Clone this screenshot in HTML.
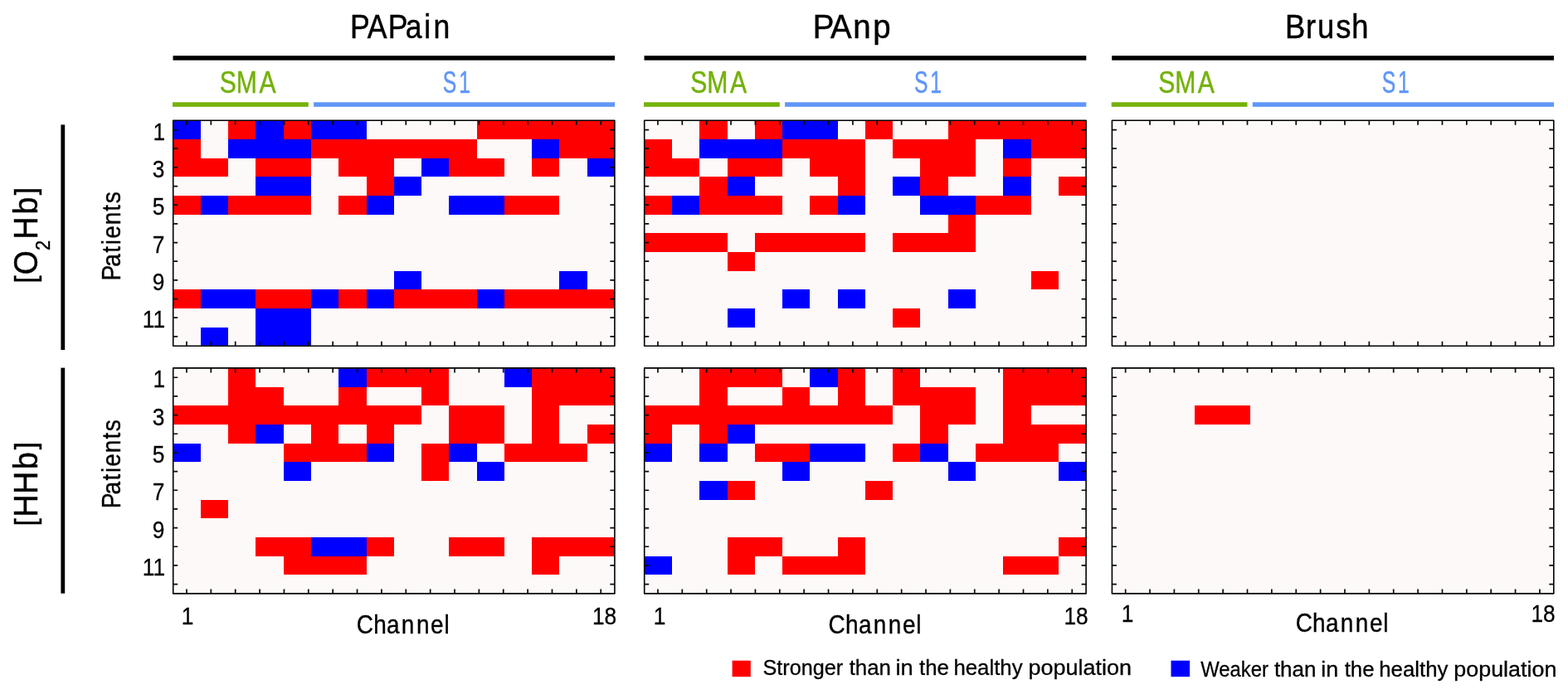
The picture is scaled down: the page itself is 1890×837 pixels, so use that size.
<!DOCTYPE html>
<html lang="en"><head><meta charset="utf-8"><title>Figure</title>
<style>
html,body{margin:0;padding:0;background:#fff;}
body{width:1890px;height:837px;overflow:hidden;font-family:"Liberation Sans", sans-serif;}
svg{display:block;}
text{white-space:pre;}
</style></head><body>
<svg width="1890" height="837" viewBox="0 0 1890 837" font-family='"Liberation Sans", sans-serif'>
<rect width="1890" height="837" fill="#fff"/>
<rect x="208.5" y="67.2" width="532.6" height="5.5" fill="#000"/>
<rect x="208" y="123.3" width="163.8" height="5.5" fill="#75b10a"/>
<rect x="378.1" y="123.3" width="363" height="5.5" fill="#5f96f8"/>
<rect x="776.5" y="67.2" width="532.8" height="5.5" fill="#000"/>
<rect x="776" y="123.3" width="163.8" height="5.5" fill="#75b10a"/>
<rect x="946.1" y="123.3" width="363.2" height="5.5" fill="#5f96f8"/>
<rect x="1340.2" y="67.2" width="532.8" height="5.5" fill="#000"/>
<rect x="1339.7" y="123.3" width="163.8" height="5.5" fill="#75b10a"/>
<rect x="1509.8" y="123.3" width="363.2" height="5.5" fill="#5f96f8"/>
<rect x="73.4" y="150.4" width="4.8" height="271.6" fill="#000"/>
<rect x="73.4" y="443.6" width="4.8" height="272.1" fill="#000"/>
<g>
<rect x="208.7" y="145.2" width="532.2" height="272" fill="#fdf9f9"/>
<path d="M275 145H308V168H275ZM342 145H375V168H342ZM575 145H741V168H575ZM209 168H242V191H209ZM375 168H575V191H375ZM674 168H741V191H674ZM209 191H275V213H209ZM308 191H375V213H308ZM408 191H475V213H408ZM541 191H608V213H541ZM641 191H674V213H641ZM442 213H475V236H442ZM209 236H242V259H209ZM275 236H375V259H275ZM408 236H442V259H408ZM608 236H674V259H608ZM209 349H242V372H209ZM308 349H375V372H308ZM408 349H442V372H408ZM475 349H575V372H475ZM608 349H741V372H608Z" fill="#ff0000"/>
<path d="M209 145H242V168H209ZM308 145H342V168H308ZM375 145H442V168H375ZM275 168H375V191H275ZM641 168H674V191H641ZM508 191H541V213H508ZM708 191H741V213H708ZM308 213H375V236H308ZM475 213H508V236H475ZM242 236H275V259H242ZM442 236H475V259H442ZM541 236H608V259H541ZM475 327H508V349H475ZM674 327H708V349H674ZM242 349H308V372H242ZM375 349H408V372H375ZM442 349H475V372H442ZM575 349H608V372H575ZM308 372H375V395H308ZM242 395H275V417H242ZM308 395H375V417H308Z" fill="#0000ff"/>
<path d="M224.95 145.2v5.5M224.95 417.2v-5.5M254.32 145.2v5.5M254.32 417.2v-5.5M283.69 145.2v5.5M283.69 417.2v-5.5M313.06 145.2v5.5M313.06 417.2v-5.5M342.43 145.2v5.5M342.43 417.2v-5.5M371.8 145.2v5.5M371.8 417.2v-5.5M401.17 145.2v5.5M401.17 417.2v-5.5M430.54 145.2v5.5M430.54 417.2v-5.5M459.91 145.2v5.5M459.91 417.2v-5.5M489.28 145.2v5.5M489.28 417.2v-5.5M518.65 145.2v5.5M518.65 417.2v-5.5M548.02 145.2v5.5M548.02 417.2v-5.5M577.39 145.2v5.5M577.39 417.2v-5.5M606.76 145.2v5.5M606.76 417.2v-5.5M636.13 145.2v5.5M636.13 417.2v-5.5M665.5 145.2v5.5M665.5 417.2v-5.5M694.87 145.2v5.5M694.87 417.2v-5.5M724.24 145.2v5.5M724.24 417.2v-5.5M208.7 156.53h5.5M740.9 156.53h-5.5M208.7 179.2h5.5M740.9 179.2h-5.5M208.7 201.87h5.5M740.9 201.87h-5.5M208.7 224.53h5.5M740.9 224.53h-5.5M208.7 247.2h5.5M740.9 247.2h-5.5M208.7 269.87h5.5M740.9 269.87h-5.5M208.7 292.53h5.5M740.9 292.53h-5.5M208.7 315.2h5.5M740.9 315.2h-5.5M208.7 337.87h5.5M740.9 337.87h-5.5M208.7 360.53h5.5M740.9 360.53h-5.5M208.7 383.2h5.5M740.9 383.2h-5.5M208.7 405.87h5.5M740.9 405.87h-5.5" stroke="#0a0a0a" stroke-width="1.7" fill="none"/>
<rect x="208.7" y="145.2" width="532.2" height="272" fill="none" stroke="#000" stroke-width="1.6" stroke-linejoin="round"/>
</g>
<g>
<rect x="776.7" y="145.2" width="532.4" height="272" fill="#fdf9f9"/>
<path d="M843 145H877V168H843ZM910 145H943V168H910ZM1043 145H1076V168H1043ZM1143 145H1309V168H1143ZM777 168H810V191H777ZM943 168H1043V191H943ZM1076 168H1176V191H1076ZM1243 168H1309V191H1243ZM777 191H843V213H777ZM877 191H943V213H877ZM976 191H1043V213H976ZM1109 191H1176V213H1109ZM1209 191H1243V213H1209ZM843 213H877V236H843ZM1010 213H1043V236H1010ZM1109 213H1143V236H1109ZM1276 213H1309V236H1276ZM777 236H810V259H777ZM843 236H943V259H843ZM976 236H1010V259H976ZM1176 236H1243V259H1176ZM1143 259H1176V281H1143ZM777 281H877V304H777ZM910 281H1043V304H910ZM1076 281H1176V304H1076ZM877 304H910V327H877ZM1243 327H1276V349H1243ZM1076 372H1109V395H1076Z" fill="#ff0000"/>
<path d="M943 145H1010V168H943ZM843 168H943V191H843ZM1209 168H1243V191H1209ZM877 213H910V236H877ZM1076 213H1109V236H1076ZM1209 213H1243V236H1209ZM810 236H843V259H810ZM1010 236H1043V259H1010ZM1109 236H1176V259H1109ZM943 349H976V372H943ZM1010 349H1043V372H1010ZM1143 349H1176V372H1143ZM877 372H910V395H877Z" fill="#0000ff"/>
<path d="M792.95 145.2v5.5M792.95 417.2v-5.5M822.32 145.2v5.5M822.32 417.2v-5.5M851.69 145.2v5.5M851.69 417.2v-5.5M881.06 145.2v5.5M881.06 417.2v-5.5M910.43 145.2v5.5M910.43 417.2v-5.5M939.8 145.2v5.5M939.8 417.2v-5.5M969.17 145.2v5.5M969.17 417.2v-5.5M998.54 145.2v5.5M998.54 417.2v-5.5M1027.91 145.2v5.5M1027.91 417.2v-5.5M1057.28 145.2v5.5M1057.28 417.2v-5.5M1086.65 145.2v5.5M1086.65 417.2v-5.5M1116.02 145.2v5.5M1116.02 417.2v-5.5M1145.39 145.2v5.5M1145.39 417.2v-5.5M1174.76 145.2v5.5M1174.76 417.2v-5.5M1204.13 145.2v5.5M1204.13 417.2v-5.5M1233.5 145.2v5.5M1233.5 417.2v-5.5M1262.87 145.2v5.5M1262.87 417.2v-5.5M1292.24 145.2v5.5M1292.24 417.2v-5.5M776.7 156.53h5.5M1309.1 156.53h-5.5M776.7 179.2h5.5M1309.1 179.2h-5.5M776.7 201.87h5.5M1309.1 201.87h-5.5M776.7 224.53h5.5M1309.1 224.53h-5.5M776.7 247.2h5.5M1309.1 247.2h-5.5M776.7 269.87h5.5M1309.1 269.87h-5.5M776.7 292.53h5.5M1309.1 292.53h-5.5M776.7 315.2h5.5M1309.1 315.2h-5.5M776.7 337.87h5.5M1309.1 337.87h-5.5M776.7 360.53h5.5M1309.1 360.53h-5.5M776.7 383.2h5.5M1309.1 383.2h-5.5M776.7 405.87h5.5M1309.1 405.87h-5.5" stroke="#0a0a0a" stroke-width="1.7" fill="none"/>
<rect x="776.7" y="145.2" width="532.4" height="272" fill="none" stroke="#000" stroke-width="1.6" stroke-linejoin="round"/>
</g>
<g>
<rect x="1340.4" y="145.2" width="532.4" height="272" fill="#fdf9f9"/>
<path d="M1356.65 145.2v5.5M1356.65 417.2v-5.5M1386.02 145.2v5.5M1386.02 417.2v-5.5M1415.39 145.2v5.5M1415.39 417.2v-5.5M1444.76 145.2v5.5M1444.76 417.2v-5.5M1474.13 145.2v5.5M1474.13 417.2v-5.5M1503.5 145.2v5.5M1503.5 417.2v-5.5M1532.87 145.2v5.5M1532.87 417.2v-5.5M1562.24 145.2v5.5M1562.24 417.2v-5.5M1591.61 145.2v5.5M1591.61 417.2v-5.5M1620.98 145.2v5.5M1620.98 417.2v-5.5M1650.35 145.2v5.5M1650.35 417.2v-5.5M1679.72 145.2v5.5M1679.72 417.2v-5.5M1709.09 145.2v5.5M1709.09 417.2v-5.5M1738.46 145.2v5.5M1738.46 417.2v-5.5M1767.83 145.2v5.5M1767.83 417.2v-5.5M1797.2 145.2v5.5M1797.2 417.2v-5.5M1826.57 145.2v5.5M1826.57 417.2v-5.5M1855.94 145.2v5.5M1855.94 417.2v-5.5M1340.4 156.53h5.5M1872.8 156.53h-5.5M1340.4 179.2h5.5M1872.8 179.2h-5.5M1340.4 201.87h5.5M1872.8 201.87h-5.5M1340.4 224.53h5.5M1872.8 224.53h-5.5M1340.4 247.2h5.5M1872.8 247.2h-5.5M1340.4 269.87h5.5M1872.8 269.87h-5.5M1340.4 292.53h5.5M1872.8 292.53h-5.5M1340.4 315.2h5.5M1872.8 315.2h-5.5M1340.4 337.87h5.5M1872.8 337.87h-5.5M1340.4 360.53h5.5M1872.8 360.53h-5.5M1340.4 383.2h5.5M1872.8 383.2h-5.5M1340.4 405.87h5.5M1872.8 405.87h-5.5" stroke="#0a0a0a" stroke-width="1.7" fill="none"/>
<rect x="1340.4" y="145.2" width="532.4" height="272" fill="none" stroke="#000" stroke-width="1.6" stroke-linejoin="round"/>
</g>
<g>
<rect x="208.7" y="443.9" width="532.2" height="272" fill="#fdf9f9"/>
<path d="M275 444H308V467H275ZM442 444H541V467H442ZM641 444H741V467H641ZM275 467H342V489H275ZM408 467H442V489H408ZM508 467H541V489H508ZM641 467H741V489H641ZM209 489H508V512H209ZM541 489H608V512H541ZM641 489H674V512H641ZM275 512H308V535H275ZM375 512H408V535H375ZM442 512H475V535H442ZM541 512H608V535H541ZM641 512H674V535H641ZM708 512H741V535H708ZM342 535H442V557H342ZM508 535H541V557H508ZM608 535H708V557H608ZM508 557H541V580H508ZM242 603H275V625H242ZM308 648H375V671H308ZM442 648H475V671H442ZM541 648H608V671H541ZM641 648H741V671H641ZM342 671H442V693H342ZM641 671H674V693H641Z" fill="#ff0000"/>
<path d="M408 444H442V467H408ZM608 444H641V467H608ZM308 512H342V535H308ZM209 535H242V557H209ZM442 535H475V557H442ZM541 535H575V557H541ZM342 557H375V580H342ZM575 557H608V580H575ZM375 648H442V671H375Z" fill="#0000ff"/>
<path d="M224.95 443.9v5.5M224.95 715.9v-5.5M254.32 443.9v5.5M254.32 715.9v-5.5M283.69 443.9v5.5M283.69 715.9v-5.5M313.06 443.9v5.5M313.06 715.9v-5.5M342.43 443.9v5.5M342.43 715.9v-5.5M371.8 443.9v5.5M371.8 715.9v-5.5M401.17 443.9v5.5M401.17 715.9v-5.5M430.54 443.9v5.5M430.54 715.9v-5.5M459.91 443.9v5.5M459.91 715.9v-5.5M489.28 443.9v5.5M489.28 715.9v-5.5M518.65 443.9v5.5M518.65 715.9v-5.5M548.02 443.9v5.5M548.02 715.9v-5.5M577.39 443.9v5.5M577.39 715.9v-5.5M606.76 443.9v5.5M606.76 715.9v-5.5M636.13 443.9v5.5M636.13 715.9v-5.5M665.5 443.9v5.5M665.5 715.9v-5.5M694.87 443.9v5.5M694.87 715.9v-5.5M724.24 443.9v5.5M724.24 715.9v-5.5M208.7 455.23h5.5M740.9 455.23h-5.5M208.7 477.9h5.5M740.9 477.9h-5.5M208.7 500.57h5.5M740.9 500.57h-5.5M208.7 523.23h5.5M740.9 523.23h-5.5M208.7 545.9h5.5M740.9 545.9h-5.5M208.7 568.57h5.5M740.9 568.57h-5.5M208.7 591.23h5.5M740.9 591.23h-5.5M208.7 613.9h5.5M740.9 613.9h-5.5M208.7 636.57h5.5M740.9 636.57h-5.5M208.7 659.23h5.5M740.9 659.23h-5.5M208.7 681.9h5.5M740.9 681.9h-5.5M208.7 704.57h5.5M740.9 704.57h-5.5" stroke="#0a0a0a" stroke-width="1.7" fill="none"/>
<rect x="208.7" y="443.9" width="532.2" height="272" fill="none" stroke="#000" stroke-width="1.6" stroke-linejoin="round"/>
</g>
<g>
<rect x="776.7" y="443.9" width="532.4" height="272" fill="#fdf9f9"/>
<path d="M843 444H943V467H843ZM1010 444H1043V467H1010ZM1076 444H1109V467H1076ZM1209 444H1309V467H1209ZM843 467H877V489H843ZM943 467H976V489H943ZM1010 467H1043V489H1010ZM1076 467H1176V489H1076ZM1209 467H1309V489H1209ZM777 489H1076V512H777ZM1109 489H1176V512H1109ZM1209 489H1243V512H1209ZM777 512H810V535H777ZM843 512H877V535H843ZM1109 512H1143V535H1109ZM1209 512H1309V535H1209ZM910 535H976V557H910ZM1076 535H1109V557H1076ZM1176 535H1276V557H1176ZM877 580H910V603H877ZM1043 580H1076V603H1043ZM877 648H943V671H877ZM1010 648H1043V671H1010ZM1276 648H1309V671H1276ZM877 671H910V693H877ZM943 671H1043V693H943ZM1209 671H1276V693H1209Z" fill="#ff0000"/>
<path d="M976 444H1010V467H976ZM877 512H910V535H877ZM777 535H810V557H777ZM843 535H877V557H843ZM976 535H1043V557H976ZM1109 535H1143V557H1109ZM943 557H976V580H943ZM1143 557H1176V580H1143ZM1276 557H1309V580H1276ZM843 580H877V603H843ZM777 671H810V693H777Z" fill="#0000ff"/>
<path d="M792.95 443.9v5.5M792.95 715.9v-5.5M822.32 443.9v5.5M822.32 715.9v-5.5M851.69 443.9v5.5M851.69 715.9v-5.5M881.06 443.9v5.5M881.06 715.9v-5.5M910.43 443.9v5.5M910.43 715.9v-5.5M939.8 443.9v5.5M939.8 715.9v-5.5M969.17 443.9v5.5M969.17 715.9v-5.5M998.54 443.9v5.5M998.54 715.9v-5.5M1027.91 443.9v5.5M1027.91 715.9v-5.5M1057.28 443.9v5.5M1057.28 715.9v-5.5M1086.65 443.9v5.5M1086.65 715.9v-5.5M1116.02 443.9v5.5M1116.02 715.9v-5.5M1145.39 443.9v5.5M1145.39 715.9v-5.5M1174.76 443.9v5.5M1174.76 715.9v-5.5M1204.13 443.9v5.5M1204.13 715.9v-5.5M1233.5 443.9v5.5M1233.5 715.9v-5.5M1262.87 443.9v5.5M1262.87 715.9v-5.5M1292.24 443.9v5.5M1292.24 715.9v-5.5M776.7 455.23h5.5M1309.1 455.23h-5.5M776.7 477.9h5.5M1309.1 477.9h-5.5M776.7 500.57h5.5M1309.1 500.57h-5.5M776.7 523.23h5.5M1309.1 523.23h-5.5M776.7 545.9h5.5M1309.1 545.9h-5.5M776.7 568.57h5.5M1309.1 568.57h-5.5M776.7 591.23h5.5M1309.1 591.23h-5.5M776.7 613.9h5.5M1309.1 613.9h-5.5M776.7 636.57h5.5M1309.1 636.57h-5.5M776.7 659.23h5.5M1309.1 659.23h-5.5M776.7 681.9h5.5M1309.1 681.9h-5.5M776.7 704.57h5.5M1309.1 704.57h-5.5" stroke="#0a0a0a" stroke-width="1.7" fill="none"/>
<rect x="776.7" y="443.9" width="532.4" height="272" fill="none" stroke="#000" stroke-width="1.6" stroke-linejoin="round"/>
</g>
<g>
<rect x="1340.4" y="443.9" width="532.4" height="272" fill="#fdf9f9"/>
<path d="M1440 489H1507V512H1440Z" fill="#ff0000"/>
<path d="M1356.65 443.9v5.5M1356.65 715.9v-5.5M1386.02 443.9v5.5M1386.02 715.9v-5.5M1415.39 443.9v5.5M1415.39 715.9v-5.5M1444.76 443.9v5.5M1444.76 715.9v-5.5M1474.13 443.9v5.5M1474.13 715.9v-5.5M1503.5 443.9v5.5M1503.5 715.9v-5.5M1532.87 443.9v5.5M1532.87 715.9v-5.5M1562.24 443.9v5.5M1562.24 715.9v-5.5M1591.61 443.9v5.5M1591.61 715.9v-5.5M1620.98 443.9v5.5M1620.98 715.9v-5.5M1650.35 443.9v5.5M1650.35 715.9v-5.5M1679.72 443.9v5.5M1679.72 715.9v-5.5M1709.09 443.9v5.5M1709.09 715.9v-5.5M1738.46 443.9v5.5M1738.46 715.9v-5.5M1767.83 443.9v5.5M1767.83 715.9v-5.5M1797.2 443.9v5.5M1797.2 715.9v-5.5M1826.57 443.9v5.5M1826.57 715.9v-5.5M1855.94 443.9v5.5M1855.94 715.9v-5.5M1340.4 455.23h5.5M1872.8 455.23h-5.5M1340.4 477.9h5.5M1872.8 477.9h-5.5M1340.4 500.57h5.5M1872.8 500.57h-5.5M1340.4 523.23h5.5M1872.8 523.23h-5.5M1340.4 545.9h5.5M1872.8 545.9h-5.5M1340.4 568.57h5.5M1872.8 568.57h-5.5M1340.4 591.23h5.5M1872.8 591.23h-5.5M1340.4 613.9h5.5M1872.8 613.9h-5.5M1340.4 636.57h5.5M1872.8 636.57h-5.5M1340.4 659.23h5.5M1872.8 659.23h-5.5M1340.4 681.9h5.5M1872.8 681.9h-5.5M1340.4 704.57h5.5M1872.8 704.57h-5.5" stroke="#0a0a0a" stroke-width="1.7" fill="none"/>
<rect x="1340.4" y="443.9" width="532.4" height="272" fill="none" stroke="#000" stroke-width="1.6" stroke-linejoin="round"/>
</g>
<rect x="882.6" y="796.7" width="22.2" height="19.5" fill="#ff0000"/>
<rect x="1411.5" y="796.7" width="22.6" height="19.5" fill="#0000ff"/>
<text transform="translate(184.45 168.73) scale(0.8700 1)" font-size="30.2" fill="#000" stroke="#000" stroke-width="0.3">1</text>
<text transform="translate(183.75 214.07) scale(0.8700 1)" font-size="30.2" fill="#000" stroke="#000" stroke-width="0.3">3</text>
<text transform="translate(183.75 259.4) scale(0.8700 1)" font-size="30.2" fill="#000" stroke="#000" stroke-width="0.3">5</text>
<text transform="translate(183.75 304.73) scale(0.8700 1)" font-size="30.2" fill="#000" stroke="#000" stroke-width="0.3">7</text>
<text transform="translate(183.75 350.07) scale(0.8700 1)" font-size="30.2" fill="#000" stroke="#000" stroke-width="0.3">9</text>
<text transform="translate(171.79 395.4) scale(0.8700 1)" font-size="30.2" fill="#000" stroke="#000" stroke-width="0.3">11</text>
<text transform="translate(184.45 467.43) scale(0.8700 1)" font-size="30.2" fill="#000" stroke="#000" stroke-width="0.3">1</text>
<text transform="translate(183.75 512.77) scale(0.8700 1)" font-size="30.2" fill="#000" stroke="#000" stroke-width="0.3">3</text>
<text transform="translate(183.75 558.1) scale(0.8700 1)" font-size="30.2" fill="#000" stroke="#000" stroke-width="0.3">5</text>
<text transform="translate(183.75 603.43) scale(0.8700 1)" font-size="30.2" fill="#000" stroke="#000" stroke-width="0.3">7</text>
<text transform="translate(183.75 648.77) scale(0.8700 1)" font-size="30.2" fill="#000" stroke="#000" stroke-width="0.3">9</text>
<text transform="translate(171.79 694.1) scale(0.8700 1)" font-size="30.2" fill="#000" stroke="#000" stroke-width="0.3">11</text>
<text transform="translate(218.85 753.1) scale(0.8700 1)" font-size="30.2" fill="#000" stroke="#000" stroke-width="0.3">1</text>
<text transform="translate(713.94 753.1) scale(0.8700 1)" font-size="30.2" fill="#000" stroke="#000" stroke-width="0.3">18</text>
<text transform="translate(787.85 753.1) scale(0.8700 1)" font-size="30.2" fill="#000" stroke="#000" stroke-width="0.3">1</text>
<text transform="translate(1282.44 753.1) scale(0.8700 1)" font-size="30.2" fill="#000" stroke="#000" stroke-width="0.3">18</text>
<text transform="translate(1351.65 750.4) scale(0.8700 1)" font-size="30.2" fill="#000" stroke="#000" stroke-width="0.3">1</text>
<text transform="translate(1845.44 750.4) scale(0.8700 1)" font-size="30.2" fill="#000" stroke="#000" stroke-width="0.3">18</text>
<text transform="translate(0 46.2) scale(0.8617 1)" x="489.69 513.73 542.79 567.15 593.31 606.48" font-size="41.3" fill="#000" stroke="#000" stroke-width="0.5">PAPain</text>
<text transform="translate(0 46.2) scale(0.9309 1)" x="1052.52 1075.2 1104.52 1130.41" font-size="41.3" fill="#000" stroke="#000" stroke-width="0.5">PAnp</text>
<text transform="translate(0 46.2) scale(0.8797 1)" x="1760.85 1789.18 1805.25 1830.55 1852.17" font-size="41.3" fill="#000" stroke="#000" stroke-width="0.5">Brush</text>
<text transform="translate(0 111.8) scale(0.8259 1)" x="320.48 344.75 378.28" font-size="36.5" fill="#75b10a" stroke="#75b10a" stroke-width="0.5">SMA</text>
<text transform="translate(0 111.8) scale(0.8259 1)" x="1007.7 1031.97 1065.5" font-size="36.5" fill="#75b10a" stroke="#75b10a" stroke-width="0.5">SMA</text>
<text transform="translate(0 111.8) scale(0.8259 1)" x="1690.44 1714.71 1748.24" font-size="36.5" fill="#75b10a" stroke="#75b10a" stroke-width="0.5">SMA</text>
<text transform="translate(0 111.8) scale(0.6765 1)" x="789.09 817.67" font-size="36.5" fill="#5f96f8" stroke="#5f96f8" stroke-width="0.5">S1</text>
<text transform="translate(0 111.8) scale(0.6765 1)" x="1628.99 1657.57" font-size="36.5" fill="#5f96f8" stroke="#5f96f8" stroke-width="0.5">S1</text>
<text transform="translate(0 111.8) scale(0.6765 1)" x="2462.24 2490.82" font-size="36.5" fill="#5f96f8" stroke="#5f96f8" stroke-width="0.5">S1</text>
<text transform="translate(0 764.1) scale(0.8904 1)" x="482.59 505.56 523.41 543.41 563.69 582.86 601.33" font-size="31.4" fill="#000" stroke="#000" stroke-width="0.4">Channel</text>
<text transform="translate(0 764.1) scale(0.8904 1)" x="1121.54 1144.51 1162.36 1182.36 1202.64 1221.81 1240.28" font-size="31.4" fill="#000" stroke="#000" stroke-width="0.4">Channel</text>
<text transform="translate(0 761.6) scale(0.8904 1)" x="1753.86 1776.83 1794.69 1814.68 1834.96 1854.13 1872.6" font-size="31.4" fill="#000" stroke="#000" stroke-width="0.4">Channel</text>
<text transform="translate(145.2 0) rotate(-90) scale(0.8972 1)" x="-377.17 -358.51 -339.62 -328.99 -320.72 -302.35 -283.83 -273.37" font-size="31.4" fill="#000" stroke="#000" stroke-width="0.4">Patients</text>
<text transform="translate(145.2 0) rotate(-90) scale(0.8972 1)" x="-683.56 -664.9 -646 -635.38 -627.1 -608.74 -590.22 -579.76" font-size="31.4" fill="#000" stroke="#000" stroke-width="0.4">Patients</text>
<text transform="translate(45.4 339.9) rotate(-90) scale(0.930 1)" fill="#000" stroke="#000" stroke-width="0.45"><tspan x="-2.05" y="-2" font-size="36">[</tspan><tspan x="9.24" y="0" font-size="40.2">O</tspan><tspan x="40.86" y="14.6" font-size="23.5">2</tspan><tspan x="55.34" y="0" font-size="40.2">H</tspan><tspan x="87.63" y="0" font-size="40.2">b</tspan><tspan x="112.46" y="-2" font-size="36">]</tspan></text>
<text transform="translate(45.4 632.6) rotate(-90) scale(0.930 1)" fill="#000" stroke="#000" stroke-width="0.45"><tspan x="-2.05" y="-2" font-size="36">[</tspan><tspan x="9.75" y="0" font-size="40.2">H</tspan><tspan x="39.64" y="0" font-size="40.2">H</tspan><tspan x="71.71" y="0" font-size="40.2">b</tspan><tspan x="97.08" y="-2" font-size="36">]</tspan></text>
<text y="814.1" font-size="26" fill="#000" stroke="#000" stroke-width="0.3"><tspan x="919.41" textLength="103.72" lengthAdjust="spacingAndGlyphs">Stronger </tspan><tspan x="1023.7" textLength="57.42" lengthAdjust="spacingAndGlyphs">than </tspan><tspan x="1079.49" textLength="28.82" lengthAdjust="spacingAndGlyphs">in </tspan><tspan x="1108.1" textLength="43.01" lengthAdjust="spacingAndGlyphs">the </tspan><tspan x="1149.39" textLength="90.38" lengthAdjust="spacingAndGlyphs">healthy </tspan><tspan x="1239.41" textLength="124.5" lengthAdjust="spacingAndGlyphs">population</tspan></text>
<text y="816.1" font-size="26" fill="#000" stroke="#000" stroke-width="0.3"><tspan x="1447.2" textLength="88.45" lengthAdjust="spacingAndGlyphs">Weaker </tspan><tspan x="1535.9" textLength="57.89" lengthAdjust="spacingAndGlyphs">than </tspan><tspan x="1592.31" textLength="28.5" lengthAdjust="spacingAndGlyphs">in </tspan><tspan x="1620.7" textLength="43.01" lengthAdjust="spacingAndGlyphs">the </tspan><tspan x="1662.29" textLength="90.27" lengthAdjust="spacingAndGlyphs">healthy </tspan><tspan x="1752.32" textLength="124.09" lengthAdjust="spacingAndGlyphs">population</tspan></text>
</svg>
</body></html>
